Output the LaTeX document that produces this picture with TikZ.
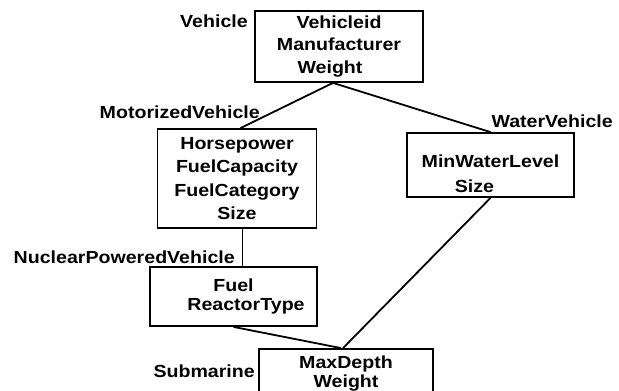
\documentclass[tikz,border=0pt]{standalone}
\usepackage{fontspec}
\newfontfamily\lbl{Liberation Sans Bold}[FakeStretch=1.12]

\begin{document}
\begin{tikzpicture}[x=1pt,y=-1pt,
    classbox/.style={draw,line width=1.8pt,align=center,inner sep=0pt,
      font=\lbl\fontsize{17.5}{22.5}\selectfont},
    tag/.style={inner sep=0pt,anchor=base east,
      font=\lbl\fontsize{17.5}{21}\selectfont},
    link/.style={line width=1.8pt}]
    \useasboundingbox (0,0) rectangle (619,391);
    \node[classbox,minimum width=168pt,minimum height=71pt] (veh) at (339,46.5)
      {Vehicleid\\Manufacturer\\Weight\hspace*{18pt}};
    \node[classbox,minimum width=159pt,minimum height=99pt] (mot) at (237,178.5)
      {Horsepower\\[1pt]FuelCapacity\\[1pt]FuelCategory\\[1pt]Size};
    \node[classbox,minimum width=167pt,minimum height=64pt] (wat) at (490.5,165)
      {\rule{0pt}{31pt}MinWaterLevel\\[2.5pt]Size\hspace*{32pt}};
    \node[classbox,minimum width=167pt,minimum height=59pt] (nuc) at (233.5,296.5)
      {Fuel\\[-3.5pt]\hspace*{25pt}ReactorType};
    \node[classbox,minimum width=174pt,minimum height=50pt] (sub) at (346,374)
      {MaxDepth\\[-3.5pt]Weight};
    \foreach \n/\x/\y/\t in {vehtag/248/27/Vehicle,mottag/260/118/MotorizedVehicle,
        wattag/613/127/WaterVehicle,nuctag/235/263/NuclearPoweredVehicle,
        subtag/255/377/Submarine} {
      \node[tag] (\n) at (\x,\y) {\t};
    }
    \draw[link] ([xshift=-6pt]veh.south) -- ([xshift=3.5pt]mot.north);
    \draw[link] ([xshift=-6pt]veh.south) -- (wat.north);
    \draw[link] ([xshift=5.5pt]mot.south) -- ([xshift=5.5pt]mot.south |- nuc.north);
    \draw[link] (nuc.south) -- ([xshift=-5pt]sub.north);
    \draw[link] (wat.south) -- ([xshift=-3pt]sub.north);
  \end{tikzpicture}
\end{document}
